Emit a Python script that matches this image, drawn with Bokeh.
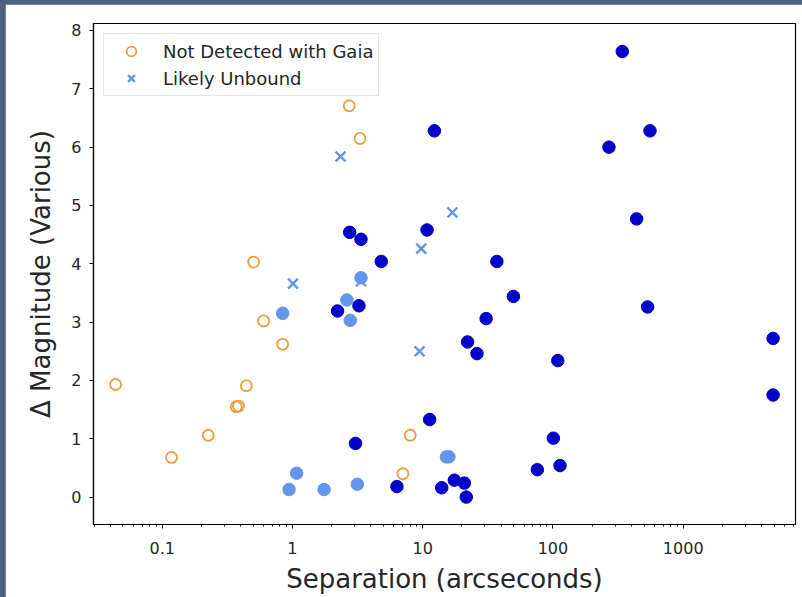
from bokeh.plotting import figure
from bokeh.models import Range1d, FixedTicker, Legend, LegendItem
from bokeh.embed import file_html
from bokeh.resources import INLINE

# Companions with Gaia detections (bound candidates)
bound_sep = [340.6, 12.3, 269, 556, 439, 10.8, 37.1, 49.7, 533, 30.7, 22.1, 26.1,
             108.9, 4898, 4898, 2.75, 3.36, 4.81, 2.22, 3.24, 3.05, 6.34, 11.3,
             100.7, 113.3, 75.9, 14.0, 17.5, 20.9, 21.6]
bound_dmag = [7.64, 6.28, 6.00, 6.28, 4.77, 4.58, 4.04, 3.44, 3.26, 3.06, 2.66, 2.46,
              2.34, 2.72, 1.75, 4.54, 4.42, 4.04, 3.19, 3.28, 0.92, 0.18, 1.33,
              1.01, 0.54, 0.47, 0.16, 0.29, 0.24, 0.00]

# Other detected companions
other_sep = [0.841, 2.62, 2.78, 3.36, 0.942, 1.077, 1.75, 3.15, 15.2, 15.9]
other_dmag = [3.15, 3.38, 3.03, 3.76, 0.13, 0.41, 0.13, 0.22, 0.69, 0.69]

# Not detected with Gaia
nd_sep = [0.0439, 0.118, 0.226, 0.370, 0.385, 0.443, 0.504, 0.601, 0.841, 2.73, 3.30, 8.02, 7.05]
nd_dmag = [1.93, 0.68, 1.06, 1.55, 1.56, 1.91, 4.03, 3.02, 2.62, 6.71, 6.15, 1.06, 0.40]

# Likely unbound
ub_sep = [1.01, 2.34, 3.36, 9.75, 16.9, 9.46]
ub_dmag = [3.66, 5.84, 3.70, 4.26, 4.88, 2.50]

y_ticks = [0, 1, 2, 3, 4, 5, 6, 7, 8]
x_ticks = [0.1, 1, 10, 100, 1000]
x_tick_labels = ["0.1", "1", "10", "100", "1000"]

FONT = "DejaVu Sans"

p = figure(width=797, height=593, x_axis_type="log",
           x_range=Range1d(0.0297, 7278), y_range=Range1d(-0.47, 8.12),
           output_backend="svg", toolbar_location=None,
           min_border_left=88, min_border_right=7, min_border_top=19, min_border_bottom=73)

p.background_fill_color = "white"
p.border_fill_color = "white"
p.outline_line_color = "black"
p.outline_line_width = 1.2
p.xgrid.visible = False
p.ygrid.visible = False

minor = []
for d in [0.01, 0.1, 1, 10, 100, 1000]:
    for m in range(2, 10):
        minor.append(d * m)
p.xaxis.ticker = FixedTicker(ticks=x_ticks, minor_ticks=minor)
p.xaxis.major_label_overrides = {t: s for t, s in zip(x_ticks, x_tick_labels)}
p.yaxis.ticker = FixedTicker(ticks=y_ticks)

for ax in [p.xaxis[0], p.yaxis[0]]:
    ax.axis_line_color = "black"
    ax.axis_line_width = 1.2
    ax.major_tick_in = 0
    ax.major_tick_out = 4
    ax.minor_tick_in = 0
    ax.minor_tick_out = 2
    ax.major_tick_line_color = "black"
    ax.minor_tick_line_color = "black"
    ax.major_label_text_font = FONT
    ax.major_label_text_font_size = "16px"
    ax.major_label_text_color = "#262626"
    ax.axis_label_text_font = FONT
    ax.axis_label_text_font_style = "normal"
    ax.axis_label_text_font_size = "26px"
    ax.axis_label_text_color = "#262626"
p.yaxis.minor_tick_out = 0

p.xaxis.axis_label = "Separation (arcseconds)"
p.yaxis.axis_label = "\u0394 Magnitude (Various)"
p.xaxis.major_label_standoff = 13
p.yaxis.major_label_standoff = 8
p.xaxis.axis_label_standoff = 7
p.yaxis.axis_label_standoff = 12

light = "#6495ED"
dark = "#0000C8"
orange = "#EE9C3C"

p.scatter(other_sep, other_dmag, marker="circle", size=12.5, fill_color=light, line_color=light)
r_ub = p.scatter(ub_sep, ub_dmag, marker="x", size=14, line_color=light, line_width=2.4)
r_nd = p.scatter(nd_sep, nd_dmag, marker="circle", size=11, fill_color=None,
                 line_color=orange, line_width=1.8)
p.scatter(bound_sep, bound_dmag, marker="circle", size=12.5, fill_color=dark, line_color=dark)

legend = Legend(items=[LegendItem(label="Not Detected with Gaia", renderers=[r_nd]),
                       LegendItem(label="Likely Unbound", renderers=[r_ub])],
                location="top_left")
legend.margin = 10
legend.padding = 5
legend.spacing = 3
legend.glyph_width = 44
legend.glyph_height = 24
legend.label_height = 24
legend.label_standoff = 10
legend.label_text_font = FONT
legend.label_text_font_size = "18px"
legend.label_text_color = "#262626"
legend.border_line_color = "#cccccc"
legend.border_line_width = 1
legend.background_fill_alpha = 0.8
p.add_layout(legend)

# dark page surround, figure offset by a few pixels
page_style = ("<style>html,body{margin:0!important;background:#4c6080!important;}"
              "body{padding:4px 0 0 5px!important;}</style>")
html = file_html(p, INLINE)
if "</head>" in html:
    html = html.replace("</head>", page_style + "</head>", 1)
else:
    html = page_style + html
open("out.html", "w").write(html)
